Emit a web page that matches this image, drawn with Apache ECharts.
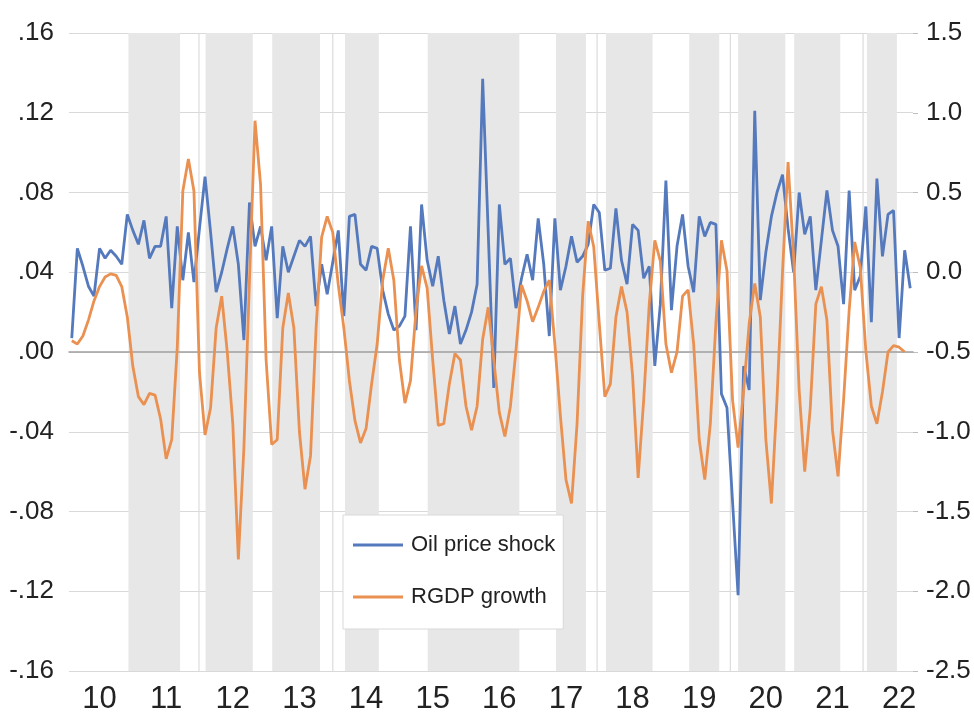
<!DOCTYPE html>
<html><head><meta charset="utf-8">
<script src="https://cdn.jsdelivr.net/npm/echarts@6/dist/echarts.min.js"></script>
<style>html,body{margin:0;padding:0;background:#fff}#c{width:974px;height:720px}</style>
</head><body><div id="c"></div>
<script>
// Monthly data, 2009-08 .. 2022-03
const oilShock = [
 0.007,0.052,0.043,0.033,0.028,0.052,0.047,0.051,0.048,0.044,
 0.069,0.061,0.054,0.066,0.047,0.053,0.053,0.068,0.022,0.063,
 0.036,0.060,0.035,0.062,0.088,0.060,0.030,0.040,0.052,0.063,
 0.044,0.006,0.075,0.053,0.063,0.046,0.063,0.017,0.053,0.040,
 0.048,0.056,0.053,0.058,0.023,0.044,0.029,0.045,0.061,0.018,
 0.068,0.069,0.044,0.041,0.053,0.052,0.031,0.019,0.011,0.013,
 0.018,0.063,0.011,0.074,0.046,0.033,0.048,0.026,0.009,0.023,
 0.004,0.011,0.020,0.034,0.137,0.060,-0.018,0.074,0.044,0.047,
 0.022,0.037,0.049,0.036,0.067,0.044,0.008,0.067,0.031,0.043,
 0.058,0.045,0.048,0.054,0.074,0.070,0.041,0.042,0.072,0.046,
 0.034,0.064,0.061,0.037,0.043,-0.007,0.024,0.086,0.021,0.053,
 0.069,0.043,0.030,0.068,0.058,0.065,0.064,-0.021,-0.028,-0.075,
 -0.122,-0.007,-0.019,0.121,0.026,0.050,0.068,0.080,0.089,0.062,
 0.040,0.080,0.059,0.068,0.031,0.056,0.081,0.061,0.053,0.024,
 0.081,0.031,0.038,0.073,0.015,0.087,0.048,0.069,0.071,0.007,
 0.051,0.032
];
const rgdpGrowth = [
 -0.43,-0.45,-0.40,-0.30,-0.18,-0.09,-0.03,-0.01,-0.02,-0.09,
 -0.28,-0.59,-0.78,-0.83,-0.76,-0.77,-0.92,-1.17,-1.05,-0.47,
 0.51,0.71,0.51,-0.63,-1.02,-0.85,-0.35,-0.15,-0.50,-0.95,
 -1.80,-1.10,-0.05,0.95,0.55,-0.55,-1.08,-1.05,-0.35,-0.13,
 -0.35,-1.00,-1.36,-1.15,-0.35,0.22,0.35,0.25,-0.08,-0.35,
 -0.68,-0.93,-1.07,-0.98,-0.70,-0.45,-0.05,0.15,-0.05,-0.55,
 -0.82,-0.68,-0.24,0.04,-0.10,-0.55,-0.96,-0.95,-0.70,-0.51,
 -0.55,-0.84,-0.99,-0.84,-0.42,-0.22,-0.55,-0.88,-1.03,-0.84,
 -0.49,-0.08,-0.18,-0.31,-0.22,-0.12,-0.05,-0.45,-0.90,-1.30,
 -1.45,-0.95,-0.15,0.32,0.16,-0.32,-0.78,-0.70,-0.28,-0.09,
 -0.25,-0.65,-1.29,-0.80,-0.20,0.20,0.07,-0.45,-0.63,-0.50,
 -0.15,-0.11,-0.45,-1.05,-1.30,-0.95,-0.32,0.20,0.01,-0.80,
 -1.10,-0.74,-0.32,-0.07,-0.28,-1.05,-1.45,-0.80,0.00,0.69,
 0.10,-0.74,-1.25,-0.85,-0.20,-0.09,-0.30,-0.99,-1.28,-0.80,
 -0.24,0.19,0.03,-0.49,-0.84,-0.95,-0.75,-0.50,-0.46,-0.47,
 -0.50
];
// shaded periods, in month-index units (start, end)
const bandStart = [10.2, 24.1, 36.1, 49.2, 64.1, 87.2, 96.2, 111.2, 120.0, 130.1, 143.2];
const bandEnd   = [19.5, 32.6, 44.7, 55.3, 80.6, 92.6, 104.6, 116.6, 128.5, 138.4, 148.6];
const thinLines = [22.8, 46.9, 94.5, 118.5, 142.4];
const seriesNames = ['Oil price shock', 'RGDP growth'];

const months = [];
for (let k = 0; k < oilShock.length; k++) {
  const m = 7 + k, y = 2009 + Math.floor(m / 12), mm = (m % 12) + 1;
  months.push(y + '-' + String(mm).padStart(2, '0'));
}
const bandData = bandStart.map((s, i) => [s, bandEnd[i], 0]).concat(thinLines.map(v => [v, v, 1]));

const FONT = "'Liberation Sans', Arial, sans-serif";
const TXT = '#222';

function fmtLeft(v) {
  const s = Math.abs(v).toFixed(2).replace(/^0/, '');
  return (v < -1e-9 ? '-' : '') + s;
}

const chart = echarts.init(document.getElementById('c'), null, { renderer: 'canvas' });
chart.setOption({
  animation: false,
  backgroundColor: '#fff',
  grid: { left: 69, right: 61, top: 33, bottom: 49, containLabel: false },
  legend: {
    data: seriesNames, orient: 'vertical', left: 343, top: 515,
    icon: 'rect', itemWidth: 50, itemHeight: 3, itemGap: 30,
    padding: [19, 8, 21, 10], backgroundColor: '#fff', borderColor: '#d9d9d9', borderWidth: 1,
    textStyle: { fontSize: 22, fontFamily: FONT, color: TXT, padding: [0, 0, 0, 3] }
  },
  xAxis: [
    { type: 'category', data: months, boundaryGap: true, position: 'bottom',
      axisLine: { show: false, onZero: false }, axisTick: { show: false },
      axisLabel: { interval: (i) => i % 12 === 5, formatter: v => v.slice(2, 4),
        fontSize: 31, fontFamily: FONT, color: TXT, margin: 13 },
      splitLine: { show: false }, z: 2 },
    { type: 'value', min: -0.5, max: 151.5, position: 'bottom',
      axisLine: { show: true, onZero: true, lineStyle: { color: '#a0a0a0', width: 1.5 } },
      axisTick: { show: false }, axisLabel: { show: false }, splitLine: { show: false }, z: 2 }
  ],
  yAxis: [
    { type: 'value', min: -0.16, max: 0.16, interval: 0.04, position: 'left',
      axisLine: { show: false }, axisTick: { show: false },
      axisLabel: { formatter: fmtLeft, fontSize: 26, fontFamily: FONT, color: TXT, margin: 15 },
      splitLine: { show: true, lineStyle: { color: '#d9d9d9', width: 1 } } },
    { type: 'value', min: -2.5, max: 1.5, interval: 0.5, position: 'right',
      axisLine: { show: false }, axisTick: { show: true, length: 5, lineStyle: { color: '#bfbfbf' } },
      axisLabel: { formatter: v => v.toFixed(1), fontSize: 26, fontFamily: FONT, color: TXT, margin: 13 },
      splitLine: { show: false } }
  ],
  series: [
    { type: 'custom', xAxisIndex: 1, yAxisIndex: 0, silent: true, z: 1, data: bandData,
      encode: { x: [0, 1], y: 2 },
      renderItem: function (params, api) {
        const a = api.coord([api.value(0), 0.16]);
        const b = api.coord([api.value(1), -0.16]);
        const thin = api.value(2) === 1;
        return { type: 'rect',
          shape: { x: a[0], y: a[1], width: Math.max(b[0] - a[0], 1.2), height: b[1] - a[1] },
          style: { fill: thin ? '#dcdcdc' : '#e7e7e7' } };
      } },
    { name: seriesNames[0], type: 'line', xAxisIndex: 0, yAxisIndex: 0, data: oilShock,
      symbol: 'none', z: 3, color: '#5479bd', lineStyle: { width: 2.8, color: '#5479bd' } },
    { name: seriesNames[1], type: 'line', xAxisIndex: 0, yAxisIndex: 1, data: rgdpGrowth,
      symbol: 'none', z: 3, color: '#ea9050', lineStyle: { width: 2.8, color: '#ea9050' } }
  ]
});
</script></body></html>
